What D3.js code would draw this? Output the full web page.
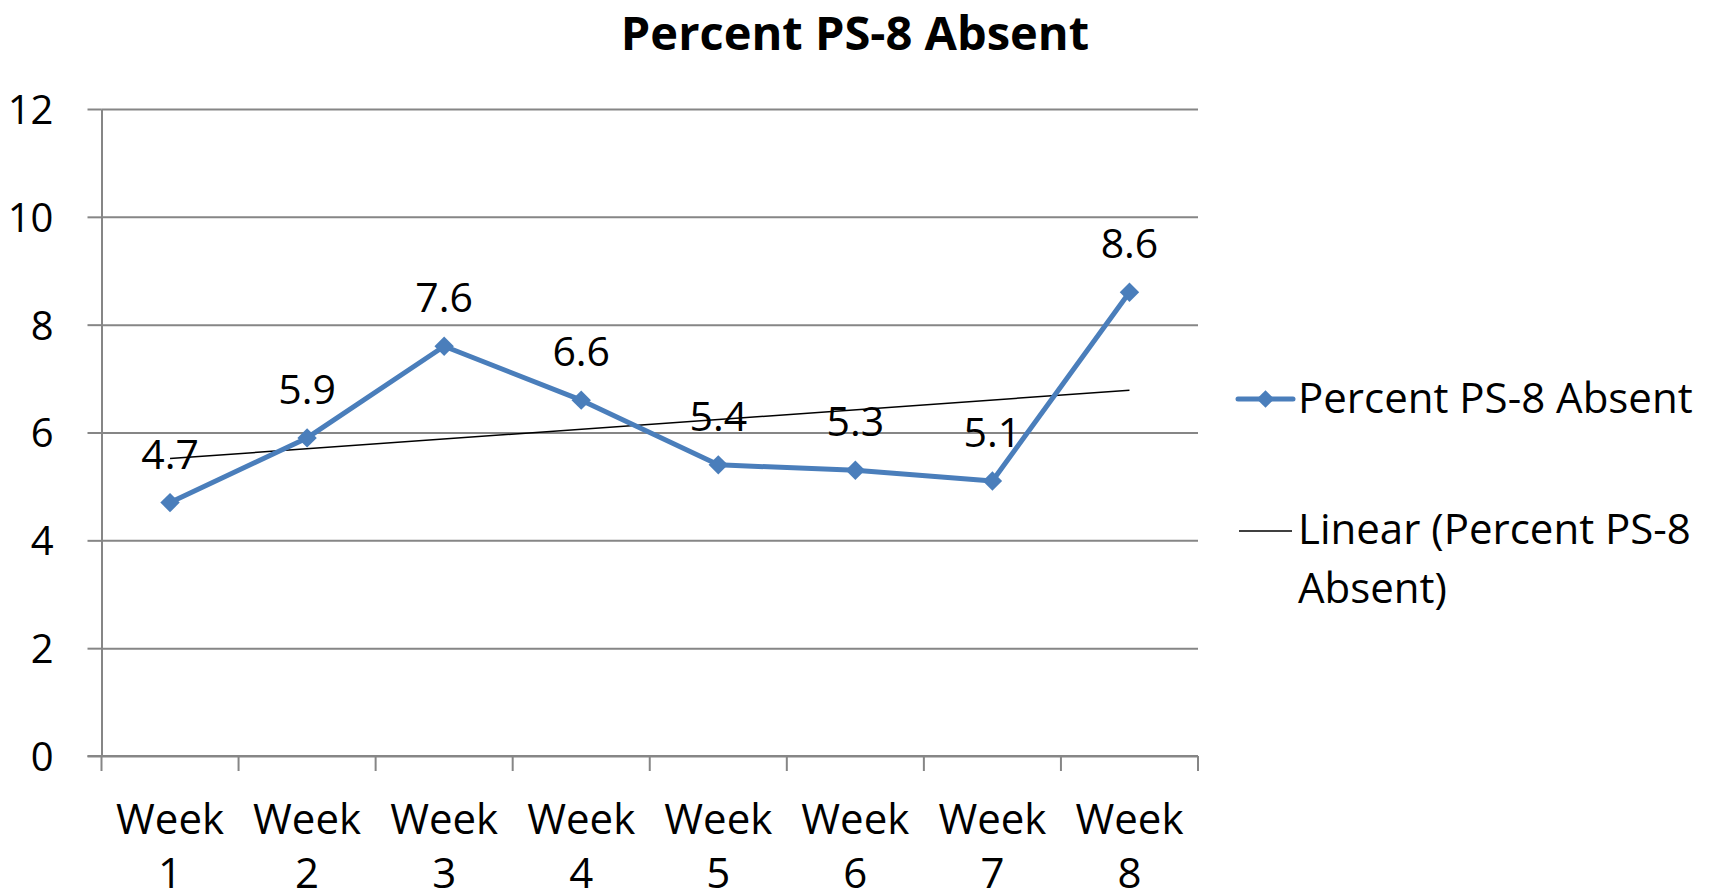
<!DOCTYPE html>
<html>
<head>
<meta charset="utf-8">
<script src="https://cdn.jsdelivr.net/npm/d3@7"></script>
<style>
  body { margin: 0; background: #fff; }
  text { font-family: "Open Sans", sans-serif; fill: #000; }
</style>
</head>
<body>
<svg class="chart" width="1711" height="896"></svg>
<script>
/*
* Draws a line chart of weekly PS-8 absence with a linear trend line.
*/

// Chart data.
var weeks = ["Week 1", "Week 2", "Week 3", "Week 4", "Week 5", "Week 6", "Week 7", "Week 8"];
var absent = [4.7, 5.9, 7.6, 6.6, 5.4, 5.3, 5.1, 8.6];
var yTicks = [0, 2, 4, 6, 8, 10, 12];
var seriesName = "Percent PS-8 Absent";
var trendName = ["Linear (Percent PS-8", "Absent)"];

var blue = "#4a7ebb",
    grid = "#868686";

function drawChart() {

  var margin = {top: 109, right: 513, bottom: 140, left: 101.5},
      width = 1711 - margin.left - margin.right,
      height = 896 - margin.top - margin.bottom;

  var svg = d3.select(".chart");

  // Title.
  svg.append("text")
      .attr("x", 855)
      .attr("y", 50)
      .attr("text-anchor", "middle")
      .style("font-size", "47px")
      .style("font-weight", "bold")
      .text(seriesName);

  var chart = svg.append("g")
      .attr("transform", "translate(" + margin.left + "," + margin.top + ")");

  x = d3.scaleBand()
      .domain(weeks)
      .range([0, width]);

  y = d3.scaleLinear()
      .domain([0, 12])
      .range([height, 0]);

  drawGrid(chart, width);
  drawYAxis(chart);
  drawXAxis(chart, height);
  drawTrend(chart);
  drawSeries(chart);
  drawLegend(svg);
}

/*
* Horizontal gridlines.
*/
function drawGrid(chart, width) {

  chart.append("g")
      .attr("class", "grid")
      .call(d3.axisLeft(y).tickValues(yTicks).tickSize(-width).tickFormat(""))
    .call(function(g) { g.select(".domain").remove(); })
    .selectAll("line")
      .attr("stroke", grid)
      .attr("stroke-width", 2);
}

/*
* Y axis with labels and small outside ticks.
*/
function drawYAxis(chart) {

  var axis = chart.append("g")
      .attr("class", "y axis")
      .call(d3.axisLeft(y).tickValues(yTicks).tickSize(14).tickSizeOuter(0).tickPadding(34));

  axis.select(".domain").attr("stroke", grid).attr("stroke-width", 2);
  axis.selectAll("line").attr("stroke", grid).attr("stroke-width", 2);
  axis.selectAll("text")
      .attr("fill", "#000")
      .attr("dy", "0.36em")
      .style("font-size", "40px");
}

/*
* X axis: ticks between the categories and two line labels.
*/
function drawXAxis(chart, height) {

  var axis = chart.append("g")
      .attr("class", "x axis")
      .attr("transform", "translate(0," + height + ")");

  axis.append("line")
      .attr("x1", x.range()[0] - 14)
      .attr("x2", x.range()[1])
      .attr("stroke", grid)
      .attr("stroke-width", 2);

  var bounds = weeks.map(function(d) { return x(d); }).concat([x.range()[1]]);
  axis.selectAll(".tick")
      .data(bounds)
      .enter().append("line")
      .attr("class", "tick")
      .attr("x1", function(d) { return d; })
      .attr("x2", function(d) { return d; })
      .attr("y1", 0)
      .attr("y2", 15)
      .attr("stroke", grid)
      .attr("stroke-width", 2);

  var label = axis.selectAll(".label")
      .data(weeks)
      .enter().append("text")
      .attr("class", "label")
      .attr("text-anchor", "middle")
      .style("font-size", "42px");

  label.selectAll("tspan")
      .data(function(d) { return d.split(" "); })
      .enter().append("tspan")
      .attr("x", function() { return x(this.parentNode.__data__) + x.bandwidth() / 2; })
      .attr("y", function(d, i) { return 78 + i * 54; })
      .text(function(d) { return d; });
}

/*
* Least squares trend line from the first to the last week.
*/
function drawTrend(chart) {

  var n = absent.length,
      mx = d3.mean(absent, function(d, i) { return i + 1; }),
      my = d3.mean(absent),
      sxy = d3.sum(absent, function(d, i) { return (i + 1 - mx) * (d - my); }),
      sxx = d3.sum(absent, function(d, i) { return (i + 1 - mx) * (i + 1 - mx); }),
      slope = sxy / sxx,
      icpt = my - slope * mx;

  var ends = [0, n - 1];
  chart.append("path")
      .datum(ends)
      .attr("fill", "none")
      .attr("stroke", "#000")
      .attr("stroke-width", 1.5)
      .attr("d", d3.line()
        .x(function(i) { return x(weeks[i]) + x.bandwidth() / 2; })
        .y(function(i) { return y(icpt + slope * (i + 1)); }));
}

/*
* Data line, diamond markers and value labels.
*/
function drawSeries(chart) {

  var cx = function(d, i) { return x(weeks[i]) + x.bandwidth() / 2; };

  chart.append("path")
      .datum(absent)
      .attr("fill", "none")
      .attr("stroke", blue)
      .attr("stroke-width", 5)
      .attr("stroke-linejoin", "round")
      .attr("d", d3.line().x(cx).y(function(d) { return y(d); }));

  chart.selectAll(".marker")
      .data(absent)
      .enter().append("path")
      .attr("class", "marker")
      .attr("fill", blue)
      .attr("d", d3.symbol().type(d3.symbolDiamond2).size(240))
      .attr("transform", function(d, i) { return "translate(" + cx(d, i) + "," + y(d) + ")"; });

  chart.selectAll(".value")
      .data(absent)
      .enter().append("text")
      .attr("class", "value")
      .attr("x", cx)
      .attr("y", function(d) { return y(d) - 34; })
      .attr("text-anchor", "middle")
      .style("font-size", "41px")
      .text(function(d) { return d.toFixed(1); });
}

/*
* Legend on the right.
*/
function drawLegend(svg) {

  var legend = svg.append("g").attr("class", "legend");

  legend.append("line")
      .attr("x1", 1238).attr("x2", 1293)
      .attr("y1", 399).attr("y2", 399)
      .attr("stroke", blue)
      .attr("stroke-width", 5)
      .attr("stroke-linecap", "round");

  legend.append("path")
      .attr("fill", blue)
      .attr("d", d3.symbol().type(d3.symbolDiamond2).size(200))
      .attr("transform", "translate(1265.5,399)");

  legend.append("text")
      .attr("x", 1298)
      .attr("y", 413)
      .style("font-size", "42px")
      .text(seriesName);

  legend.append("line")
      .attr("x1", 1239).attr("x2", 1292)
      .attr("y1", 531).attr("y2", 531)
      .attr("stroke", "#000")
      .attr("stroke-width", 1.5);

  legend.append("text")
      .attr("x", 1298)
      .attr("y", 544)
      .style("font-size", "42px")
    .selectAll("tspan")
      .data(trendName)
      .enter().append("tspan")
      .attr("x", 1298)
      .attr("y", function(d, i) { return 544 + i * 59; })
      .text(function(d) { return d; });
}

drawChart();
</script>
</body>
</html>
